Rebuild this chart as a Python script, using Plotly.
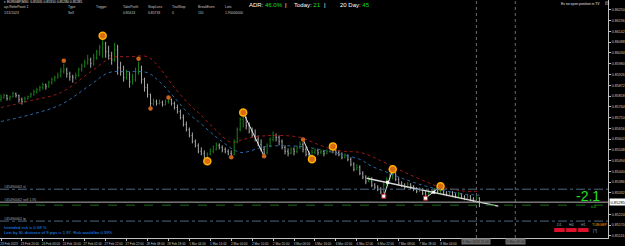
import plotly.graph_objects as go

# ---------------- data ----------------
bar_index = list(range(161))
opens = [0.85800,0.85810,0.85820,0.85805,0.85815,0.85830,0.85820,0.85800,0.85790,0.85805,
 0.85815,0.85825,0.85840,0.85850,0.85860,0.85875,0.85865,0.85885,0.85900,0.85910,
 0.85920,0.85940,0.85950,0.85930,0.85915,0.85910,0.85920,0.85950,0.85970,0.85985,
 0.86000,0.85980,0.86010,0.86040,0.86060,0.86080,0.86040,0.86020,0.86000,0.86050,
 0.85960,0.85940,0.85910,0.85925,0.85890,0.85900,0.85940,0.85960,0.85900,0.85860,
 0.85825,0.85780,0.85790,0.85780,0.85785,0.85775,0.85790,0.85800,0.85780,0.85760,
 0.85740,0.85710,0.85675,0.85650,0.85620,0.85590,0.85570,0.85540,0.85530,0.85510,
 0.85525,0.85540,0.85550,0.85570,0.85560,0.85550,0.85540,0.85530,0.85525,0.85590,
 0.85650,0.85700,0.85710,0.85670,0.85640,0.85620,0.85600,0.85575,0.85550,0.85530,
 0.85570,0.85600,0.85620,0.85610,0.85590,0.85560,0.85540,0.85530,0.85550,0.85540,
 0.85560,0.85575,0.85550,0.85525,0.85515,0.85535,0.85545,0.85535,0.85540,0.85530,
 0.85540,0.85550,0.85545,0.85535,0.85525,0.85510,0.85520,0.85500,0.85475,0.85450,
 0.85460,0.85430,0.85410,0.85390,0.85400,0.85370,0.85360,0.85350,0.85335,0.85375,
 0.85400,0.85420,0.85430,0.85400,0.85380,0.85370,0.85360,0.85375,0.85365,0.85350,
 0.85340,0.85350,0.85330,0.85320,0.85335,0.85340,0.85350,0.85340,0.85345,0.85330,
 0.85325,0.85335,0.85320,0.85315,0.85325,0.85310,0.85305,0.85315,0.85300,0.85295,
 0.85305]
highs = [0.85825,0.85830,0.85825,0.85820,0.85840,0.85835,0.85825,0.85810,0.85815,0.85820,
 0.85835,0.85850,0.85860,0.85870,0.85885,0.85880,0.85895,0.85910,0.85920,0.85935,
 0.85960,0.85980,0.85960,0.85940,0.85925,0.85935,0.85960,0.85980,0.86000,0.86025,
 0.86010,0.86030,0.86050,0.86075,0.86110,0.86090,0.86070,0.86040,0.86085,0.86075,
 0.85990,0.85970,0.85950,0.85940,0.85930,0.85960,0.85990,0.85970,0.85910,0.85880,
 0.85830,0.85805,0.85800,0.85800,0.85795,0.85800,0.85805,0.85805,0.85790,0.85775,
 0.85750,0.85725,0.85690,0.85660,0.85635,0.85600,0.85580,0.85560,0.85545,0.85535,
 0.85555,0.85570,0.85585,0.85580,0.85570,0.85560,0.85550,0.85545,0.85600,0.85660,
 0.85710,0.85725,0.85715,0.85685,0.85660,0.85650,0.85620,0.85600,0.85565,0.85580,
 0.85610,0.85640,0.85630,0.85620,0.85600,0.85570,0.85555,0.85560,0.85560,0.85570,
 0.85590,0.85585,0.85560,0.85540,0.85550,0.85555,0.85550,0.85550,0.85545,0.85550,
 0.85560,0.85555,0.85550,0.85545,0.85535,0.85530,0.85525,0.85510,0.85485,0.85475,
 0.85470,0.85440,0.85420,0.85415,0.85410,0.85380,0.85370,0.85360,0.85385,0.85410,
 0.85430,0.85440,0.85435,0.85410,0.85390,0.85380,0.85385,0.85380,0.85370,0.85360,
 0.85360,0.85355,0.85340,0.85345,0.85350,0.85355,0.85350,0.85355,0.85350,0.85340,
 0.85340,0.85340,0.85330,0.85335,0.85330,0.85320,0.85325,0.85320,0.85310,0.85315,
 0.85310]
lows = [0.85790,0.85805,0.85795,0.85795,0.85810,0.85810,0.85785,0.85775,0.85785,0.85800,
 0.85810,0.85820,0.85830,0.85840,0.85850,0.85850,0.85860,0.85875,0.85890,0.85905,
 0.85910,0.85930,0.85910,0.85895,0.85885,0.85900,0.85915,0.85940,0.85960,0.85975,
 0.85960,0.85970,0.86000,0.86020,0.86010,0.86010,0.86000,0.85975,0.85990,0.85925,
 0.85920,0.85890,0.85900,0.85860,0.85875,0.85890,0.85925,0.85880,0.85840,0.85810,
 0.85765,0.85770,0.85770,0.85775,0.85765,0.85770,0.85780,0.85770,0.85750,0.85730,
 0.85700,0.85665,0.85640,0.85610,0.85580,0.85560,0.85530,0.85520,0.85500,0.85505,
 0.85520,0.85530,0.85545,0.85550,0.85535,0.85530,0.85520,0.85520,0.85520,0.85580,
 0.85640,0.85660,0.85650,0.85630,0.85610,0.85590,0.85565,0.85540,0.85525,0.85525,
 0.85560,0.85590,0.85590,0.85570,0.85550,0.85525,0.85515,0.85525,0.85520,0.85530,
 0.85550,0.85535,0.85515,0.85510,0.85510,0.85525,0.85520,0.85525,0.85515,0.85525,
 0.85535,0.85530,0.85520,0.85515,0.85500,0.85505,0.85490,0.85465,0.85440,0.85445,
 0.85420,0.85400,0.85375,0.85385,0.85360,0.85350,0.85340,0.85325,0.85330,0.85370,
 0.85390,0.85400,0.85390,0.85370,0.85360,0.85350,0.85355,0.85350,0.85340,0.85330,
 0.85335,0.85320,0.85315,0.85315,0.85330,0.85335,0.85330,0.85330,0.85320,0.85315,
 0.85320,0.85310,0.85305,0.85310,0.85300,0.85295,0.85300,0.85290,0.85285,0.85280,
 0.85260]
closes = [0.85810,0.85820,0.85805,0.85815,0.85830,0.85820,0.85800,0.85790,0.85805,0.85815,
 0.85825,0.85840,0.85850,0.85860,0.85875,0.85865,0.85885,0.85900,0.85910,0.85920,
 0.85940,0.85950,0.85930,0.85915,0.85910,0.85920,0.85950,0.85970,0.85985,0.86000,
 0.85980,0.86010,0.86040,0.86060,0.86080,0.86040,0.86020,0.86000,0.86050,0.85960,
 0.85940,0.85910,0.85925,0.85890,0.85900,0.85940,0.85960,0.85900,0.85860,0.85825,
 0.85780,0.85790,0.85780,0.85785,0.85775,0.85790,0.85800,0.85780,0.85760,0.85740,
 0.85710,0.85675,0.85650,0.85620,0.85590,0.85570,0.85540,0.85530,0.85510,0.85525,
 0.85540,0.85550,0.85570,0.85560,0.85550,0.85540,0.85530,0.85525,0.85590,0.85650,
 0.85700,0.85710,0.85670,0.85640,0.85620,0.85600,0.85575,0.85550,0.85530,0.85570,
 0.85600,0.85620,0.85610,0.85590,0.85560,0.85540,0.85530,0.85550,0.85540,0.85560,
 0.85575,0.85550,0.85525,0.85515,0.85535,0.85545,0.85535,0.85540,0.85530,0.85540,
 0.85550,0.85545,0.85535,0.85525,0.85510,0.85520,0.85500,0.85475,0.85450,0.85460,
 0.85430,0.85410,0.85390,0.85400,0.85370,0.85360,0.85350,0.85335,0.85375,0.85400,
 0.85420,0.85430,0.85400,0.85380,0.85370,0.85360,0.85375,0.85365,0.85350,0.85340,
 0.85350,0.85330,0.85320,0.85335,0.85340,0.85350,0.85340,0.85345,0.85330,0.85325,
 0.85335,0.85320,0.85315,0.85325,0.85310,0.85305,0.85315,0.85300,0.85295,0.85305,
 0.85285]

ma_red_idx = [0,10,20,30,37,43,49,53,58,64,66,71,77,81,86,93,100,106,111,115,120,124,126,131,135,141,146,151,155,160]
ma_red = [0.85760,0.85795,0.85835,0.85940,0.86010,0.86015,0.86015,0.85960,0.85860,0.85760,0.85735,0.85660,0.85585,
          0.85600,0.85615,0.85620,0.85610,0.85575,0.85550,0.85540,0.85535,0.85515,0.85500,0.85465,0.85435,0.85395,
          0.85365,0.85350,0.85340,0.85340]
ma_blue_idx = [0,10,20,30,36,43,49,53,58,63,66,73,80,86,89,100,111,115,120,124,130,135,141,146,151,155,160]
ma_blue = [0.85690,0.85725,0.85775,0.85875,0.85935,0.85940,0.85935,0.85890,0.85810,0.85725,0.85690,0.85600,0.85535,
           0.85555,0.85565,0.85565,0.85535,0.85520,0.85500,0.85465,0.85430,0.85400,0.85370,0.85350,0.85335,0.85325,0.85320]

big_dot_idx = [34, 69, 81, 104, 111, 131, 147]
big_dot_price = [0.86120, 0.85490, 0.85735, 0.85500, 0.85565, 0.85450, 0.85365]
small_dot_idx = [21, 46, 50, 56, 77, 88, 101]
small_dot_price = [0.85995, 0.86005, 0.85755, 0.85810, 0.85510, 0.85515, 0.85600]

zigzag_idx = [[81, 88], [101, 104], [128, 131], [142, 147]]
zigzag_price = [[0.85735, 0.85515], [0.85600, 0.85500], [0.85315, 0.85450], [0.85305, 0.85365]]
mark_sq_idx = [128, 142]
mark_sq_price = [0.85315, 0.85305]
cross_sq_idx = [129.3, 144.7]
cross_sq_price = [0.85385, 0.85335]
trend_idx = [122.3, 166.3]
trend_price = [0.85405, 0.85265]

sl_price = 0.85350
bid_price = 0.85285
ask_price = 0.85270
tp_price = 0.85190
vline_idx = [159, 172]
vline_labels = ["8 Mar 2023 21:00", "9 Mar 09:00"]

date_tick_idx = [7 * k for k in range(22)]
date_tick_text = ["23 Feb 2023", "23 Feb 20:00", "24 Feb 06:00", "24 Feb 16:00", "27 Feb 02:00", "27 Feb 12:00",
                  "27 Feb 22:00", "28 Feb 08:00", "28 Feb 18:00", "1 Mar 04:00", "1 Mar 14:00", "2 Mar 00:00",
                  "2 Mar 10:00", "2 Mar 20:00", "3 Mar 06:00", "3 Mar 16:00", "6 Mar 02:00", "6 Mar 12:00",
                  "6 Mar 22:00", "7 Mar 08:00", "7 Mar 18:00", "8 Mar 04:00"]
price_ticks = [0.86250, 0.86196, 0.86142, 0.86088, 0.86034, 0.85980, 0.85926, 0.85872, 0.85818, 0.85764,
               0.85710, 0.85656, 0.85602, 0.85548, 0.85494, 0.85440, 0.85386, 0.85332, 0.85224, 0.85170, 0.85116]

# ---------------- figure ----------------
W, H = 610.0, 239.0
def px(x):
    return x / W
def py(y):
    return 1 - y / H

FONT = "Liberation Sans, Arial, sans-serif"
fig = go.Figure()

fig.add_trace(go.Scatter(x=ma_red_idx, y=ma_red, mode="lines", line=dict(color="#9a1a1a", width=1, dash="dot", shape="spline"), hoverinfo="skip"))
fig.add_trace(go.Scatter(x=ma_blue_idx, y=ma_blue, mode="lines", line=dict(color="#2a6aa8", width=1, dash="dot", shape="spline"), hoverinfo="skip"))

fig.add_trace(go.Ohlc(
    x=bar_index, open=opens, high=highs, low=lows, close=closes,
    increasing=dict(line=dict(color="#1a801a", width=1)),
    decreasing=dict(line=dict(color="#a8a8a8", width=1)),
    tickwidth=0.25, hoverinfo="skip"))

fig.add_trace(go.Scatter(x=trend_idx, y=trend_price, mode="lines", line=dict(color="#d8d8d8", width=1.5), hoverinfo="skip"))
for xi, yi in zip(zigzag_idx, zigzag_price):
    fig.add_trace(go.Scatter(x=xi, y=yi, mode="lines", line=dict(color="#e8e8e8", width=1), hoverinfo="skip"))

fig.add_trace(go.Scatter(x=small_dot_idx, y=small_dot_price, mode="markers",
                         marker=dict(size=4.5, color="#c8641c", line=dict(width=0)), hoverinfo="skip"))
fig.add_trace(go.Scatter(x=big_dot_idx, y=big_dot_price, mode="markers",
                         marker=dict(size=7, color="#d86a10", line=dict(color="#ffb000", width=1.5)), hoverinfo="skip"))
fig.add_trace(go.Scatter(x=mark_sq_idx, y=mark_sq_price, mode="markers",
                         marker=dict(size=4, symbol="square", color="#ffffff", line=dict(color="#d02020", width=1)), hoverinfo="skip"))
fig.add_trace(go.Scatter(x=cross_sq_idx, y=cross_sq_price, mode="markers",
                         marker=dict(size=3, symbol="square", color="#ffffff"), hoverinfo="skip"))

shapes = []
for v in vline_idx:
    shapes.append(dict(type="line", xref="x", yref="paper", x0=v, x1=v, y0=0, y1=1,
                       line=dict(color="#6a6a6a", width=1, dash="dot")))
shapes.append(dict(type="line", xref="paper", yref="y", x0=0, x1=1, y0=sl_price, y1=sl_price,
                   line=dict(color="#4d6680", width=1, dash="dashdot")))
shapes.append(dict(type="line", xref="paper", yref="y", x0=0, x1=1, y0=bid_price, y1=bid_price,
                   line=dict(color="#b0b0b0", width=1)))
shapes.append(dict(type="line", xref="paper", yref="y", x0=0, x1=1, y0=ask_price, y1=ask_price,
                   line=dict(color="#1a6a1a", width=1, dash="dash")))
shapes.append(dict(type="line", xref="paper", yref="y", x0=0, x1=1, y0=tp_price, y1=tp_price,
                   line=dict(color="#4d6680", width=1, dash="dashdot")))
for x0 in [556, 568, 580]:
    shapes.append(dict(type="rect", xref="paper", yref="paper", x0=px(x0), x1=px(x0 + 10.5),
                       y0=py(233), y1=py(229), fillcolor="#e0102c", line=dict(width=0)))

ann = []
def text(x, y, s, size=4, color="#d0d0d0", anchor="left", yanchor="middle", **kw):
    ann.append(dict(xref="paper", yref="paper", x=px(x), y=py(y), text=s, showarrow=False,
                    xanchor=anchor, yanchor=yanchor, font=dict(family=FONT, size=size, color=color), **kw))

text(2, 2.5, "▾ EURGBP,M30  0.85305 0.85310 0.85280 0.85285", size=3.4, color="#e0e0e0")
text(2, 7, "ajs RefinPositi 1", size=3.4, color="#d0d0d0")
for xx, s in [(66, "Type"), (94, "Trigger"), (121, "TakeProfit"), (146, "StopLoss"), (171, "TrailStop"), (197, "BreakEven"), (224, "Lots")]:
    text(xx, 7.5, s, size=3.4, color="#c8c8c8")
text(2, 13, "1/11/1023", size=3.4, color="#c8c8c8")
for xx, s in [(66, "Sell"), (121, "0.85413"), (146, "0.85733"), (171, "0"), (197, "110"), (224, "1.95000000")]:
    text(xx, 13.5, s, size=3.4, color="#c8c8c8")

G = "#22dd22"
text(248, 5, "ADR: <span style='color:%s'>46.0%%</span>" % G, size=6, color="#ffffff")
text(284, 5, "|", size=6, color="#ffffff")
text(293, 5, "Today: <span style='color:%s'>21</span>" % G, size=6, color="#ffffff")
text(323, 5, "|", size=6, color="#ffffff")
text(339, 5, "20 Day: <span style='color:%s'>45</span>" % G, size=6, color="#ffffff")

text(604, 4, "Ex no open position in TV", size=3.4, color="#e0e0e0", anchor="right")
text(605, 4, "⊡", size=4.5, color="#e0e0e0")

text(2, 187.5, "#45490062 sl", size=3.6, color="#a8a8a8")
text(2, 200.5, "#45490062 sell 1.95", size=3.6, color="#a8a8a8")
text(2, 219.5, "#45490062 tp", size=3.6, color="#a8a8a8")

text(2, 228, "Intended risk is 0.58 %", size=4.2, color="#1e90ff")
text(2, 233, "Lots by SL distance of 9 pips is 1.97. Risk would be 0.59%", size=4.2, color="#1e90ff")

text(590, 197, "-2.1", size=14, color="#22e022", anchor="center")
text(595, 208, "0.0", size=3.6, color="#22cc22", anchor="center")

text(561, 226, "D1", size=3.6, color="#a0a0a0", anchor="center")
text(573, 226, "H4", size=3.6, color="#a0a0a0", anchor="center")
text(585, 226, "H1", size=3.6, color="#a0a0a0", anchor="center")
text(592, 226, "TUBGBP", size=3.6, color="#ff9a00")
text(593, 231.5, "[?]", size=3.6, color="#a0a0a0")

ann.append(dict(xref="paper", yref="y", x=px(611), y=bid_price, text="0.85285", showarrow=False,
                xanchor="left", yanchor="middle", bgcolor="#ffffff", borderpad=0.5,
                font=dict(family=FONT, size=4, color="#000000")))
for v, s in zip(vline_idx, vline_labels):
    ann.append(dict(xref="x", yref="paper", x=v, y=py(242.5), text=s, showarrow=False,
                    xanchor="center", yanchor="middle", bgcolor="#6a6a6a", borderpad=0.6,
                    font=dict(family=FONT, size=3.4, color="#222222")))

fig.update_layout(
    width=625, height=246, margin=dict(l=0, r=15, t=0, b=7),
    paper_bgcolor="#000000", plot_bgcolor="#000000", showlegend=False,
    shapes=shapes, annotations=ann,
    xaxis=dict(range=[-1 / 3, 203], showgrid=False, zeroline=False, rangeslider=dict(visible=False),
               tickmode="array", tickvals=date_tick_idx, ticktext=date_tick_text, tickangle=0,
               ticks="outside", ticklen=2, tickcolor="#c0c0c0", showline=True, linecolor="#c0c0c0", linewidth=1,
               tickfont=dict(family=FONT, size=3.1, color="#c8c8c8"), ticklabelshift=8, ticklabelstandoff=0),
    yaxis=dict(range=[0.85105, 0.86300], side="right", showgrid=False, zeroline=False,
               tickmode="array", tickvals=price_ticks, ticktext=["%.5f" % p for p in price_ticks],
               ticks="outside", ticklen=2, tickcolor="#c0c0c0", showline=True, linecolor="#c0c0c0", linewidth=1,
               tickfont=dict(family=FONT, size=3.6, color="#c8c8c8"), ticklabelstandoff=0),
)

fig.write_html("out.html")
